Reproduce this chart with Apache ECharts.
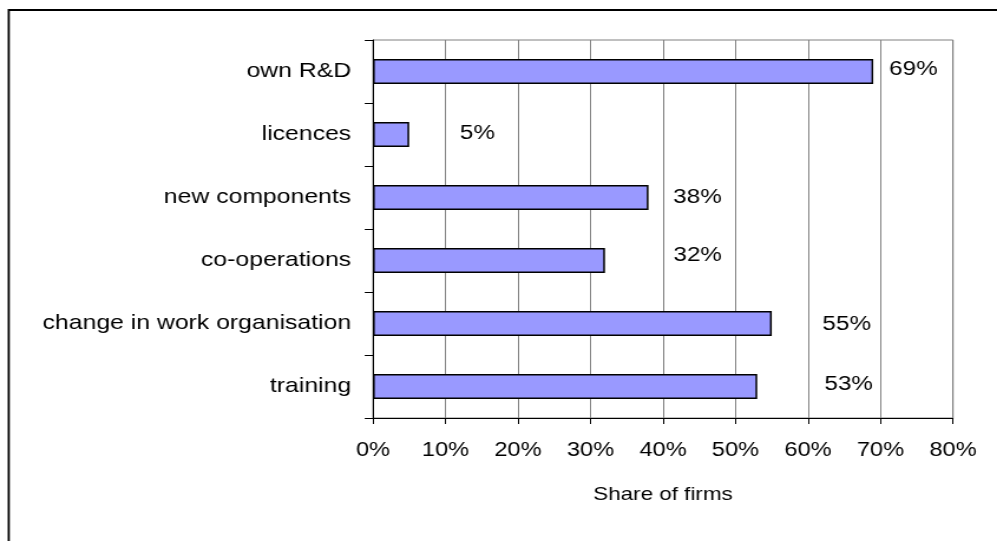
<!DOCTYPE html>
<html>
<head>
<meta charset="utf-8">
<script src="https://cdn.jsdelivr.net/npm/echarts@6/dist/echarts.min.js"></script>
<style>
html,body{margin:0;padding:0;background:#fff;overflow:hidden;}
#wrap{width:997px;height:541px;overflow:hidden;position:relative;}
#chart{width:845px;height:541px;transform:scaleX(1.1799);transform-origin:0 0;}
</style>
</head>
<body>
<div id="wrap"><div id="chart"></div></div>
<script>
// Data (top to bottom as displayed)
var categories = ['own R&D', 'licences', 'new components', 'co-operations', 'change in work organisation', 'training'];
var values = [69, 5, 38, 32, 55, 53];
var valueLabels = ['69%', '5%', '38%', '32%', '55%', '53%'];
var xTickLabels = ['0%', '10%', '20%', '30%', '40%', '50%', '60%', '70%', '80%'];
var xAxisTitle = 'Share of firms';

// label placement (gap from bar end, vertical shift) as in the reference
var labelDist = [13.5, 43, 21, 58, 43, 57];
var labelDy = [-2, -1, 0, -5, 1, -2];

var chart = echarts.init(document.getElementById('chart'), null, {renderer: 'canvas'});
var font = 'Arial, "Liberation Sans", sans-serif';

var dataItems = values.map(function (v, i) {
  return {
    value: v,
    label: {
      show: true,
      position: 'right',
      distance: labelDist[i],
      offset: [0, labelDy[i]],
      formatter: valueLabels[i]
    }
  };
});

chart.setOption({
  animation: false,
  graphic: [{
    type: 'rect',
    shape: {x: 7.4, y: 10, width: 1000, height: 700},
    style: {fill: 'none', stroke: '#000', lineWidth: 1.8},
    silent: true
  }],
  grid: {left: 316.1, right: 37.3, top: 40, bottom: 123, containLabel: false,
         show: true, borderColor: '#808080', borderWidth: 1},
  xAxis: {
    type: 'value', min: 0, max: 80, interval: 10,
    position: 'bottom',
    name: xAxisTitle, nameLocation: 'middle', nameGap: 67,
    nameTextStyle: {color: '#000', fontFamily: font, fontSize: 19},
    axisLine: {show: true, lineStyle: {color: '#000', width: 1}},
    axisTick: {show: true, length: 6, inside: false, lineStyle: {color: '#000'}},
    axisLabel: {
      color: '#000', fontFamily: font, fontSize: 20, margin: 22,
      formatter: function (v) { return xTickLabels[Math.round(v / 10)]; }
    },
    splitLine: {show: true, lineStyle: {color: '#808080', width: 1}}
  },
  yAxis: {
    type: 'category', data: categories, inverse: true,
    axisLine: {show: true, lineStyle: {color: '#000', width: 1}},
    axisTick: {show: true, length: 7, lineStyle: {color: '#000'}},
    axisLabel: {color: '#000', fontFamily: font, fontSize: 21, margin: 18.5},
    splitLine: {show: false}
  },
  series: [{
    type: 'bar',
    data: dataItems,
    barWidth: 25,
    itemStyle: {color: '#9999FF', borderColor: '#000', borderWidth: 1.5},
    label: {color: '#000', fontFamily: font, fontSize: 20.5}
  }]
});
</script>
</body>
</html>
